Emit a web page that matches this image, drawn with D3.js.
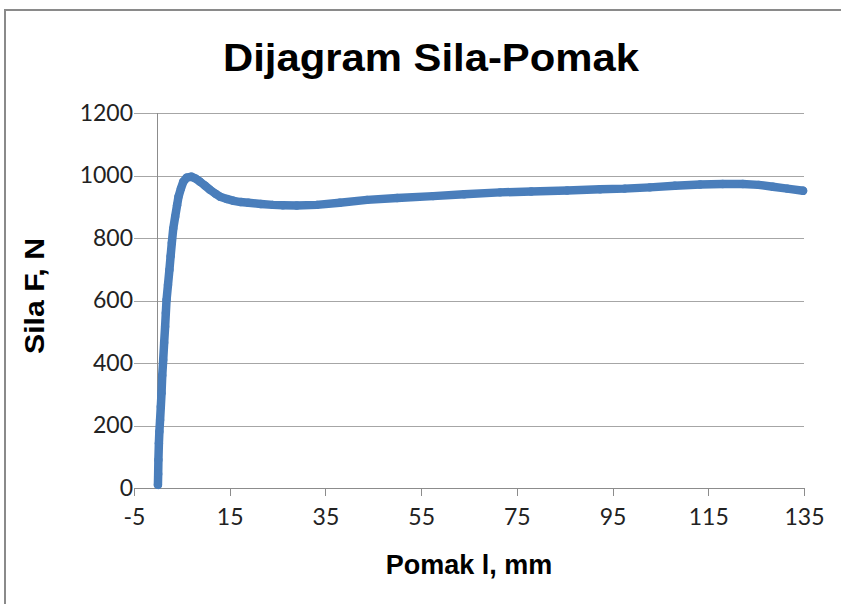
<!DOCTYPE html>
<html>
<head>
<meta charset="utf-8">
<script src="https://cdn.jsdelivr.net/npm/d3@7"></script>
<style>
  body { margin: 0; background: #fff; }
  svg { display: block; }
</style>
</head>
<body>
<svg id="Chart"></svg>
<script>
// Dijagram Sila-Pomak
let pomak = [0, 0.05, 0.1, 0.2, 0.3, 0.45, 0.6, 0.75, 0.9, 1.1, 1.3, 1.5, 1.65, 1.8, 2.1, 2.4, 2.65, 2.9, 3.2, 3.6, 4.0, 4.3, 4.8, 5.3, 6.0, 7.0, 7.9, 8.8, 9.8, 10.9, 12.0, 13.0, 14.4, 15.8, 17.3, 18.9, 21.5, 24.0, 26.1, 29.0, 33.2, 38.0, 43.7, 50.0, 57.5, 64.0, 71.5, 78.0, 85.5, 92.4, 97.5, 102.8, 108.0, 113.3, 118.0, 122.2, 125.5, 128.5, 131.5, 134.8];
let sila = [10, 45, 90, 143, 180, 218, 260, 303, 360, 410, 465, 516, 560, 602, 650, 698, 742, 784, 830, 868, 905, 932, 958, 980, 993, 996, 990, 980, 968, 954, 942, 932, 925, 919, 915, 913, 909, 906, 905, 904, 906, 913, 922, 928, 934, 940, 946, 949, 952, 956, 958, 962, 967, 971, 973, 973, 970, 964, 958, 951];
let xTicks = [-5, 15, 35, 55, 75, 95, 115, 135];
let yTicks = [0, 200, 400, 600, 800, 1000, 1200];

let points = pomak.map((p, i) => ({ x: p, y: sila[i] }));

function getChartConfig() {
  let width = 841;
  let height = 604;
  let margin = { top: 113, bottom: 116, left: 134, right: 37 };
  let bodyWidth = width - margin.left - margin.right;
  let bodyHeight = height - margin.top - margin.bottom;
  let container = d3.select('#Chart').attr('width', width).attr('height', height);
  return { width, height, margin, bodyWidth, bodyHeight, container };
}

function getChartScales(config) {
  let { bodyWidth, bodyHeight } = config;
  let xScale = d3.scaleLinear().domain([-5, 135]).range([0, bodyWidth]);
  let yScale = d3.scaleLinear().domain([0, 1200]).range([bodyHeight, 0]);
  return { xScale, yScale };
}

function drawFrame(config) {
  let { container } = config;
  container.append('rect').attr('width', 841).attr('height', 604).attr('fill', '#fff');
  container.append('path')
    .attr('d', 'M5,604 V10 H841')
    .attr('fill', 'none')
    .attr('stroke', '#8a8a8a')
    .attr('stroke-width', 2);
}

function drawGridAndAxes(scales, config) {
  let { xScale, yScale } = scales;
  let { container, margin, bodyWidth, bodyHeight } = config;
  let body = container.append('g')
    .attr('transform', `translate(${margin.left},${margin.top})`);

  // horizontal gridlines with labels
  let gridY = d3.axisLeft(yScale)
    .tickValues(yTicks)
    .tickSize(-bodyWidth)
    .tickPadding(3)
    .tickFormat(d => String(d));
  let gy = body.append('g').call(gridY);
  gy.select('.domain').remove();
  gy.selectAll('line').attr('stroke', '#a6a6a6').attr('shape-rendering', 'crispEdges');
  gy.selectAll('text')
    .attr('x', -1)
    .attr('font-family', 'Lato, "Open Sans", sans-serif')
    .attr('font-size', 23)
    .attr('fill', '#222');

  // vertical axis at x = 0
  body.append('line')
    .attr('x1', xScale(0)).attr('x2', xScale(0))
    .attr('y1', 0).attr('y2', bodyHeight)
    .attr('stroke', '#8c8c8c')
    .attr('shape-rendering', 'crispEdges');

  // bottom axis
  let axisX = d3.axisBottom(xScale)
    .tickValues(xTicks)
    .tickSize(8)
    .tickSizeOuter(0)
    .tickPadding(13)
    .tickFormat(d => String(d));
  let gx = body.append('g')
    .attr('transform', `translate(0,${bodyHeight})`)
    .call(axisX);
  gx.selectAll('line, path').attr('stroke', '#8c8c8c').attr('shape-rendering', 'crispEdges');
  gx.selectAll('text')
    .attr('font-family', 'Lato, "Open Sans", sans-serif')
    .attr('font-size', 23)
    .attr('fill', '#222');

  return body;
}

function drawSeries(body, scales) {
  let { xScale, yScale } = scales;
  let line = d3.line().x(d => xScale(d.x)).y(d => yScale(d.y));
  body.append('path')
    .datum(points)
    .attr('d', line)
    .attr('fill', 'none')
    .attr('stroke', '#4a7ebb')
    .attr('stroke-width', 8.5)
    .attr('stroke-linejoin', 'round')
    .attr('stroke-linecap', 'round');
  body.selectAll('.pt').data(points)
    .enter().append('circle')
    .attr('class', 'pt')
    .attr('cx', d => xScale(d.x))
    .attr('cy', d => yScale(d.y))
    .attr('r', 4.2)
    .attr('fill', '#4a7ebb');
}

function drawTexts(config) {
  let { container } = config;
  container.append('text')
    .attr('x', 431).attr('y', 71)
    .attr('text-anchor', 'middle')
    .attr('font-family', '"Liberation Sans", Arial, sans-serif')
    .attr('font-weight', 'bold')
    .attr('font-size', 39)
    .attr('textLength', 416)
    .attr('lengthAdjust', 'spacingAndGlyphs')
    .text('Dijagram  Sila-Pomak');
  container.append('text')
    .attr('x', 469).attr('y', 574)
    .attr('text-anchor', 'middle')
    .attr('font-family', '"Liberation Sans", Arial, sans-serif')
    .attr('font-weight', 'bold')
    .attr('font-size', 27)
    .text('Pomak l, mm');
  container.append('text')
    .attr('transform', 'translate(44,296) rotate(-90)')
    .attr('text-anchor', 'middle')
    .attr('font-family', '"Liberation Sans", Arial, sans-serif')
    .attr('font-weight', 'bold')
    .attr('font-size', 27)
    .attr('textLength', 116)
    .attr('lengthAdjust', 'spacingAndGlyphs')
    .text('Sila F, N');
}

function drawChart() {
  let config = getChartConfig();
  let scales = getChartScales(config);
  drawFrame(config);
  let body = drawGridAndAxes(scales, config);
  drawSeries(body, scales);
  drawTexts(config);
}

drawChart();
</script>
</body>
</html>
